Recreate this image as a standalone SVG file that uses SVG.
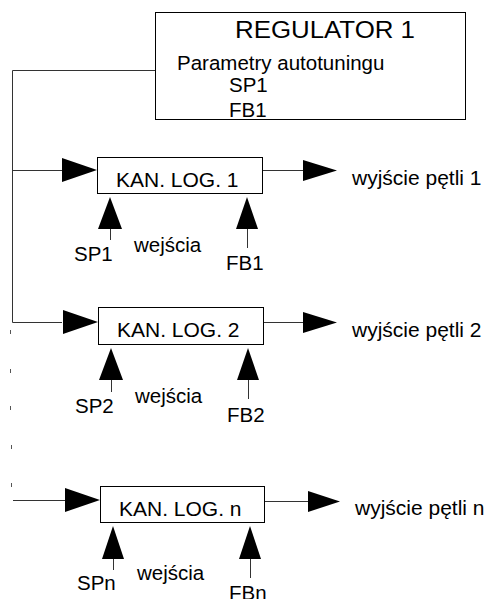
<svg xmlns="http://www.w3.org/2000/svg" width="488" height="599" viewBox="0 0 488 599">
<style>
text{font-family:"Liberation Sans",Arial,sans-serif;fill:#000}
.box{fill:#fff;stroke:#000;stroke-width:1}
.ln{fill:none;stroke:#333;stroke-width:1}
.tk{fill:none;stroke:#555;stroke-width:1}
.ah{fill:#000;stroke:none}
.t20{font-size:20.5px}
.t21{font-size:21px}
</style>
<g id="regulator">
<rect class="box" x="155.5" y="12.5" width="310" height="107"/>
<text x="235" y="38" font-size="23" textLength="180" lengthAdjust="spacingAndGlyphs">REGULATOR 1</text>
<text class="t20" x="177" y="70">Parametry autotuningu</text>
<text class="t20" x="229" y="92">SP1</text>
<text class="t20" x="229" y="117">FB1</text>
</g>
<g id="connectors">
<polyline class="ln" points="155,70.5 12.5,70.5 12.5,322.5 62,322.5"/>
<line class="ln" x1="12.5" y1="170.5" x2="62" y2="170.5"/>
<line class="ln" x1="13" y1="500.5" x2="65" y2="500.5"/>
<path class="tk" d="M10.5 330v4M10.5 369v4M10.5 406v4M11.5 445v4M11.5 483v4"/>
<polygon class="ah" points="62,158 97,170 62,182"/>
<line class="ln" x1="263" y1="170.5" x2="303" y2="170.5"/>
<polygon class="ah" points="303,160 337,170.5 303,181"/>
<polygon class="ah" points="110,197 98,229 122,229"/>
<line class="ln" x1="110.5" y1="229" x2="110.5" y2="240"/>
<polygon class="ah" points="247,197 236,229 258,229"/>
<line class="ln" x1="247.5" y1="229" x2="247.5" y2="248"/>
<polygon class="ah" points="63,310 98,322 63,334"/>
<line class="ln" x1="263" y1="322.5" x2="303" y2="322.5"/>
<polygon class="ah" points="303,312 337,322.5 303,333"/>
<polygon class="ah" points="111,348 99,380 123,380"/>
<line class="ln" x1="111.5" y1="380" x2="111.5" y2="392"/>
<polygon class="ah" points="248,348 237,380 259,380"/>
<line class="ln" x1="248.5" y1="380" x2="248.5" y2="399"/>
<polygon class="ah" points="65,488 100,500 65,512"/>
<line class="ln" x1="265" y1="501.5" x2="308" y2="501.5"/>
<polygon class="ah" points="308,491 340,501.5 308,512"/>
<polygon class="ah" points="113,526 102,559 124,559"/>
<line class="ln" x1="113.5" y1="559" x2="113.5" y2="570"/>
<polygon class="ah" points="250,526 239,559 261,559"/>
<line class="ln" x1="250.5" y1="559" x2="250.5" y2="578"/>
</g>
<g id="kan1">
<rect class="box" x="97.5" y="157.5" width="165" height="36"/>
<text class="t21" x="116" y="187">KAN. LOG. 1</text>
</g>
<g id="out1"><text class="t21" x="352" y="185">wyjście pętli 1</text></g>
<g id="in1">
<text class="t20" x="74" y="261">SP1</text>
<text class="t20" x="134" y="252">wejścia</text>
<text class="t20" x="226" y="270">FB1</text>
</g>
<g id="kan2">
<rect class="box" x="98.5" y="307.5" width="165" height="37"/>
<text class="t21" x="117" y="337">KAN. LOG. 2</text>
</g>
<g id="out2"><text class="t21" x="352" y="337">wyjście pętli 2</text></g>
<g id="in2">
<text class="t20" x="75" y="413">SP2</text>
<text class="t20" x="135" y="403">wejścia</text>
<text class="t20" x="227" y="422">FB2</text>
</g>
<g id="kann">
<rect class="box" x="100.5" y="486.5" width="164" height="36"/>
<text class="t21" x="119" y="516">KAN. LOG. n</text>
</g>
<g id="outn"><text class="t21" x="355" y="515">wyjście pętli n</text></g>
<g id="inn">
<text class="t20" x="77" y="590">SPn</text>
<text class="t20" x="137" y="580">wejścia</text>
<text class="t20" x="229" y="600">FBn</text>
</g>
</svg>
